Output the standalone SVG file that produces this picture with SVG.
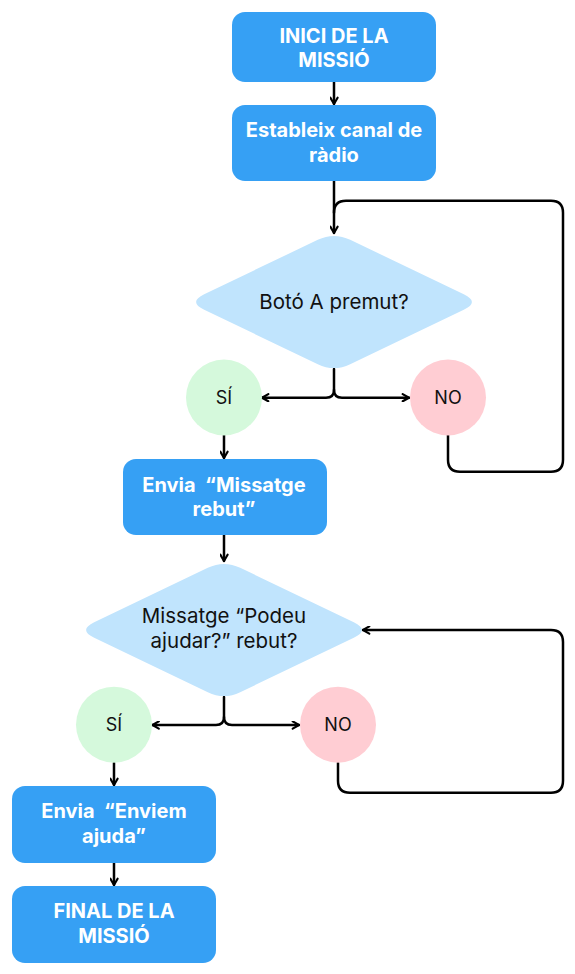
<svg xmlns="http://www.w3.org/2000/svg" width="575" height="974" viewBox="0 0 575 974">
<style>
.box{fill:#36A0F4}
.dia{fill:#C0E4FD}
.yes{fill:#D5F9DC}
.no{fill:#FFCDD3}
.bt{font-family:Inter,"Liberation Sans",sans-serif;font-weight:bold;font-size:20px;fill:#FFFFFF;text-anchor:middle}
.dt{font-family:Inter,"Liberation Sans",sans-serif;font-size:20.5px;fill:#111111;text-anchor:middle}
.ct{font-family:Inter,"Liberation Sans",sans-serif;font-size:18px;fill:#111111;text-anchor:middle}
.ln{fill:none;stroke:#000000;stroke-width:2.5;stroke-linecap:round;stroke-linejoin:round}
</style>
<defs>
<marker id="ah" viewBox="0 0 10 10" refX="9" refY="5" markerWidth="9" markerHeight="9" markerUnits="userSpaceOnUse" orient="auto">
<path d="M2,1 L9,5 L2,9" fill="none" stroke="#000000" stroke-width="2.4" stroke-linecap="round" stroke-linejoin="round"/>
</marker>
</defs>
<rect width="575" height="974" fill="#FFFFFF"/>
<g id="connectors">
<path class="ln" d="M334,82 V104" marker-end="url(#ah)"/>
<path class="ln" d="M334,181 V233" marker-end="url(#ah)"/>
<path class="ln" d="M448,435 V459.7 Q448,471.7 460,471.7 H551 Q563,471.7 563,459.7 V212.7 Q563,200.7 551,200.7 H346 Q334,200.7 334,212.7"/>
<path class="ln" d="M334,369 V389.7 Q334,397.7 326,397.7 H262" marker-end="url(#ah)"/>
<path class="ln" d="M334,389.7 Q334,397.7 342,397.7 H409" marker-end="url(#ah)"/>
<path class="ln" d="M224,435 V458" marker-end="url(#ah)"/>
<path class="ln" d="M224,535 V561" marker-end="url(#ah)"/>
<path class="ln" d="M224,697 V717 Q224,725 216,725 H152.5" marker-end="url(#ah)"/>
<path class="ln" d="M224,717 Q224,725 232,725 H299" marker-end="url(#ah)"/>
<path class="ln" d="M114,762.7 V785" marker-end="url(#ah)"/>
<path class="ln" d="M114,863 V885" marker-end="url(#ah)"/>
<path class="ln" d="M338,762.7 V780.7 Q338,792.7 350,792.7 H551 Q563,792.7 563,780.7 V642 Q563,630 551,630 H363" marker-end="url(#ah)"/>
</g>
<g id="inici">
<rect class="box" x="232" y="12" width="204" height="70" rx="13"/>
<text class="bt" x="334" y="42.5">INICI DE LA</text>
<text class="bt" x="334" y="67">MISSIÓ</text>
</g>
<g id="canal">
<rect class="box" x="232" y="105" width="204" height="76" rx="13"/>
<text class="bt" x="334" y="137">Estableix canal de</text>
<text class="bt" x="334" y="162">ràdio</text>
</g>
<g id="boto">
<path class="dia" d="M317.8,239.8 Q334,232 350.2,239.8 L463.8,294.2 Q480,302 463.8,309.8 L350.2,364.2 Q334,372 317.8,364.2 L204.2,309.8 Q188,302 204.2,294.2 Z"/>
<text class="dt" x="334" y="309">Botó A premut?</text>
</g>
<g id="si1">
<circle class="yes" cx="224" cy="397.5" r="38"/>
<text class="ct" x="224" y="403.5">SÍ</text>
</g>
<g id="no1">
<circle class="no" cx="448" cy="397.5" r="38"/>
<text class="ct" x="448" y="403.5">NO</text>
</g>
<g id="rebut">
<rect class="box" x="123" y="459" width="204" height="76" rx="13"/>
<text class="bt" x="224" y="491.7" xml:space="preserve">Envia  “Missatge</text>
<text class="bt" x="224" y="516">rebut”</text>
</g>
<g id="podeu">
<path class="dia" d="M207.8,567.8 Q224,560 240.2,567.8 L353.8,622.2 Q370,630 353.8,637.8 L240.2,692.2 Q224,700 207.8,692.2 L94.2,637.8 Q78,630 94.2,622.2 Z"/>
<text class="dt" x="224" y="623">Missatge “Podeu</text>
<text class="dt" x="224" y="648">ajudar?” rebut?</text>
</g>
<g id="si2">
<circle class="yes" cx="114" cy="724.7" r="38"/>
<text class="ct" x="114" y="731">SÍ</text>
</g>
<g id="no2">
<circle class="no" cx="338" cy="724.7" r="38"/>
<text class="ct" x="338" y="731">NO</text>
</g>
<g id="ajuda">
<rect class="box" x="12" y="786" width="204" height="77" rx="13"/>
<text class="bt" x="114" y="818" xml:space="preserve">Envia  “Enviem</text>
<text class="bt" x="114" y="843">ajuda”</text>
</g>
<g id="final">
<rect class="box" x="12" y="886" width="204" height="77" rx="13"/>
<text class="bt" x="114" y="918">FINAL DE LA</text>
<text class="bt" x="114" y="943">MISSIÓ</text>
</g>
</svg>
